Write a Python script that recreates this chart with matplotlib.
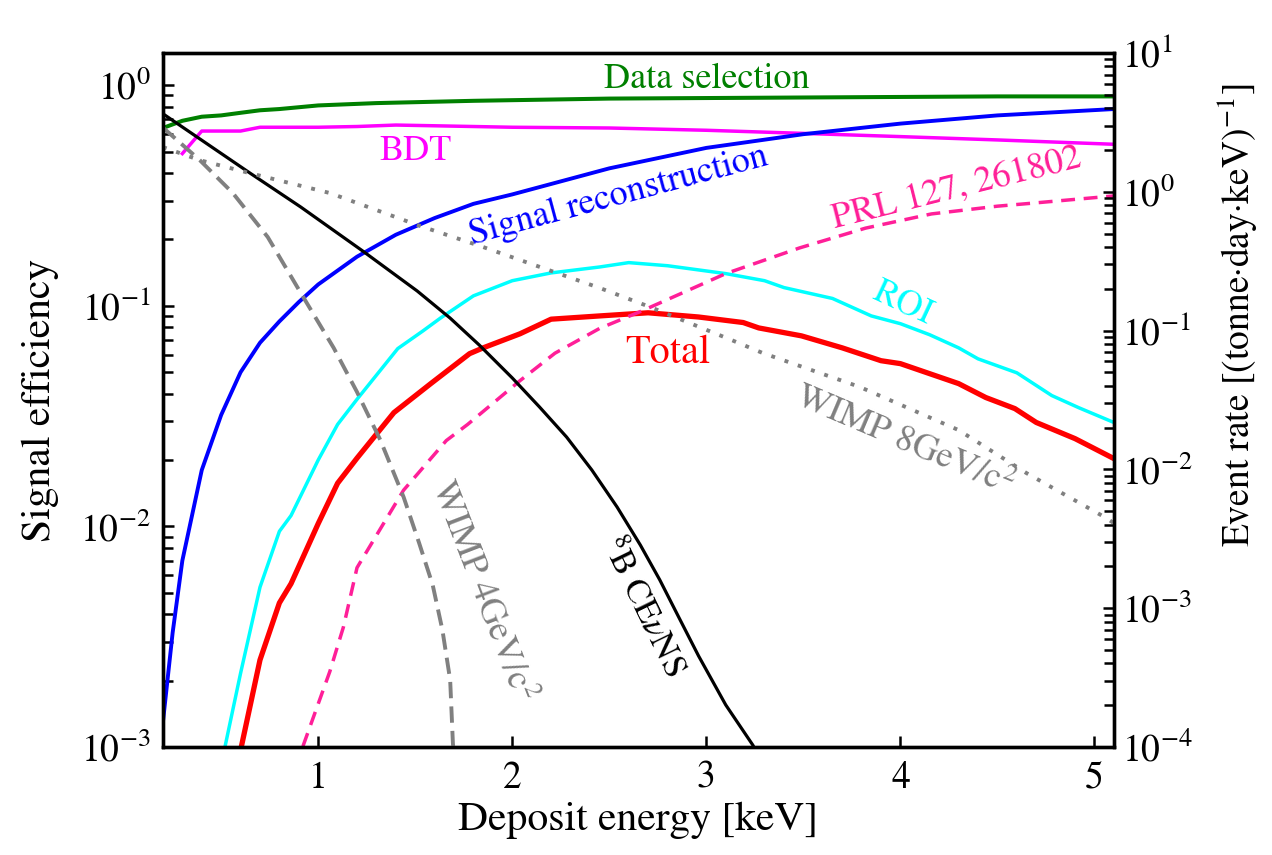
import numpy as np
import matplotlib
matplotlib.use("Agg")
import matplotlib.pyplot as plt
from matplotlib.ticker import NullFormatter

plt.rcParams['font.family'] = ['STIXGeneral', 'DejaVu Serif']
plt.rcParams['mathtext.fontset'] = 'stix'

# efficiency curves (left axis)
sel_x = [0.2, 0.3, 0.4, 0.5, 0.6, 0.7, 0.8, 1.0, 1.3, 1.8, 2.5, 3.0, 3.5, 4.0, 4.5, 5.1]
sel_y = [0.64, 0.69, 0.72, 0.73, 0.75, 0.77, 0.78, 0.81, 0.83, 0.85, 0.87, 0.875, 0.88, 0.885, 0.89, 0.89]

bdt_x = [0.3, 0.4, 0.6, 0.7, 0.8, 1.0, 1.2, 1.4, 1.6, 1.8, 2.0, 2.5, 3.0, 3.5, 4.0, 4.5, 5.1]
bdt_y = [0.49, 0.62, 0.62, 0.645, 0.645, 0.645, 0.65, 0.66, 0.655, 0.65, 0.645, 0.64, 0.625, 0.605, 0.585, 0.565, 0.54]

rec_x = [0.2, 0.25, 0.3, 0.4, 0.5, 0.6, 0.7, 0.8, 0.9, 1.0, 1.2, 1.4, 1.6, 1.8, 2.0, 2.5, 3.0, 3.5, 4.0, 4.5, 5.1]
rec_y = [0.0013, 0.0033, 0.007, 0.018, 0.032, 0.05, 0.068, 0.085, 0.104, 0.125, 0.167, 0.21, 0.25, 0.29, 0.32, 0.42, 0.52, 0.6, 0.67, 0.73, 0.78]

roi_x = [0.5, 0.6, 0.7, 0.8, 0.86, 1.0, 1.1, 1.2, 1.32, 1.41, 1.54, 1.63, 1.8, 2.0, 2.2, 2.45, 2.6, 2.8,
         3.1, 3.3, 3.4, 3.65, 3.85, 4.0, 4.15, 4.3, 4.4, 4.6, 4.78, 4.92, 5.1]
roi_y = [0.00083, 0.00216, 0.0053, 0.0095, 0.0112, 0.02, 0.029, 0.0377, 0.051, 0.064, 0.077, 0.088, 0.111,
         0.13, 0.141, 0.15, 0.157, 0.152, 0.14, 0.13, 0.121, 0.108, 0.09, 0.083, 0.074, 0.0645, 0.0575,
         0.0497, 0.0392, 0.0345, 0.0296]

tot_x = [0.58, 0.7, 0.8, 0.86, 1.0, 1.1, 1.2, 1.39, 1.58, 1.78, 1.85, 2.04, 2.2, 2.45, 2.7, 2.96, 3.19,
         3.27, 3.49, 3.7, 3.9, 4.0, 4.3, 4.44, 4.59, 4.7, 4.9, 5.1]
tot_y = [0.0008, 0.00248, 0.0045, 0.0055, 0.0103, 0.0157, 0.0204, 0.0328, 0.0444, 0.0607, 0.0645, 0.0747,
         0.087, 0.09, 0.093, 0.089, 0.084, 0.0794, 0.0731, 0.0645, 0.0564, 0.0547, 0.0444, 0.0384,
         0.0342, 0.0296, 0.025, 0.0203]

prl_x = [0.9, 0.92, 1.06, 1.13, 1.2, 1.44, 1.66, 1.77, 2.04, 2.22, 2.45, 2.67, 3.1, 3.48, 3.82, 4.16, 4.5, 4.68, 5.1]
prl_y = [0.0008, 0.001, 0.0022, 0.0035, 0.0065, 0.0146, 0.0245, 0.029, 0.0458, 0.061, 0.079, 0.095,
         0.14, 0.183, 0.225, 0.261, 0.283, 0.292, 0.315]

# event rates (right axis)
cevns_x = [0.21, 0.65, 0.91, 1.23, 1.51, 1.68, 1.83, 2.0, 2.14, 2.28, 2.41, 2.54, 2.66, 2.76, 2.86,
           2.96, 3.1, 3.24, 3.27]
cevns_y = [3.57, 1.36, 0.777, 0.374, 0.193, 0.123, 0.0787, 0.0456, 0.0282, 0.0171, 0.0099, 0.00536,
           0.00285, 0.0016, 0.00085, 0.000453, 0.000201, 0.000103, 0.000085]

w4_x = [0.2, 0.39, 0.56, 0.74, 0.91, 1.08, 1.2, 1.32, 1.44, 1.52, 1.59, 1.64, 1.68, 1.694, 1.704]
w4_y = [2.9, 1.69, 0.98, 0.472, 0.187, 0.075, 0.0361, 0.0163, 0.00633, 0.00295, 0.00147, 0.000697,
        0.000304, 0.000107, 0.00007]

w8_x = [0.2, 0.39, 0.65, 1.06, 1.51, 1.85, 2.45, 2.71, 3.13, 3.29, 3.79, 4.3, 4.65, 5.06, 5.1]
w8_y = [2.1, 1.69, 1.36, 0.98, 0.577, 0.4, 0.203, 0.148, 0.0855, 0.069, 0.0393, 0.0192, 0.0094, 0.00447, 0.0041]

fig = plt.figure(figsize=(12.72, 8.55), dpi=100)
ax = fig.add_axes([0.1281, 0.1263, 0.7476, 0.8117])
ax2 = ax.twinx()

ax.plot(sel_x, sel_y, color='green', lw=2.9)
ax.plot(bdt_x, bdt_y, color='magenta', lw=2.5)
ax.plot(rec_x, rec_y, color='blue', lw=2.8)
ax.plot(roi_x, roi_y, color='cyan', lw=2.5)
ax.plot(tot_x, tot_y, color='red', lw=3.8)
ax.plot(prl_x, prl_y, color='#ff1f98', lw=2.5, linestyle=(0, (4, 2.5)))

ax2.plot(cevns_x, cevns_y, color='black', lw=2.3)
ax2.plot(w4_x, w4_y, color='gray', lw=2.8, linestyle=(0, (4.2, 2.1)))
ax2.plot(w8_x, w8_y, color='gray', lw=2.8, linestyle=(0, (1, 2.6)))

ax.set_xlim(0.2, 5.1)
ax.set_yscale('log')
ax.set_ylim(1e-3, 1.4)
ax2.set_yscale('log')
ax2.set_ylim(1e-4, 10)

for a in (ax, ax2):
    for s in a.spines.values():
        s.set_linewidth(2.4)
    a.yaxis.set_minor_formatter(NullFormatter())

ax.tick_params(axis='both', which='both', direction='in', top=False, right=False, labelsize=27, width=1.8)
ax.tick_params(axis='y', which='major', length=8, pad=9)
ax.tick_params(axis='y', which='minor', length=7)
ax.tick_params(axis='x', which='major', length=8, pad=10)
ax.set_xticks([1, 2, 3, 4, 5])
ax2.tick_params(axis='y', which='both', direction='in', labelsize=27, width=1.8, pad=6)
ax2.tick_params(axis='y', which='major', length=8)
ax2.tick_params(axis='y', which='minor', length=7)

ax.set_xlabel('Deposit energy [keV]', fontsize=30, labelpad=4)
fig.text(40 / 1272, 1 - 400 / 855, 'Signal efficiency', fontsize=30, rotation=90, ha='center', va='center')
fig.text(1238 / 1272, 1 - 315 / 855, 'Event rate [(tonne\u00b7day\u00b7keV)$^{-1}$]', fontsize=27,
         rotation=90, ha='center', va='center')

# curve labels
ax.text(3.0, 1.06, 'Data selection', color='green', fontsize=26, ha='center', va='center')
ax.text(1.5, 0.50, 'BDT', color='magenta', fontsize=26, ha='center', va='center')
ax.text(2.55, 0.315, 'Signal reconstruction', color='blue', fontsize=26, ha='center', va='center',
        rotation=15, rotation_mode='anchor')
ax.text(4.29, 0.34, 'PRL 127, 261802', color='#ff1f98', fontsize=26, ha='center', va='center',
        rotation=14, rotation_mode='anchor')
ax.text(4.01, 0.102, 'ROI', color='cyan', fontsize=26, ha='center', va='center',
        rotation=-25, rotation_mode='anchor')
ax.text(2.80, 0.0612, 'Total', color='red', fontsize=29, ha='center', va='center')
ax.text(4.02, 0.0245, r'WIMP 8GeV/c$^2$', color='gray', fontsize=26, ha='center', va='center',
        rotation=-23, rotation_mode='anchor')
ax.text(1.843, 0.0051, r'WIMP 4GeV/c$^2$', color='gray', fontsize=26, ha='center', va='center',
        rotation=-69, rotation_mode='anchor')
ax.text(2.67, 0.0043, r'$^{8}$B CE$\nu$NS', color='black', fontsize=25, ha='center', va='center',
        rotation=-64, rotation_mode='anchor')

fig.savefig('out.png', dpi=100)
